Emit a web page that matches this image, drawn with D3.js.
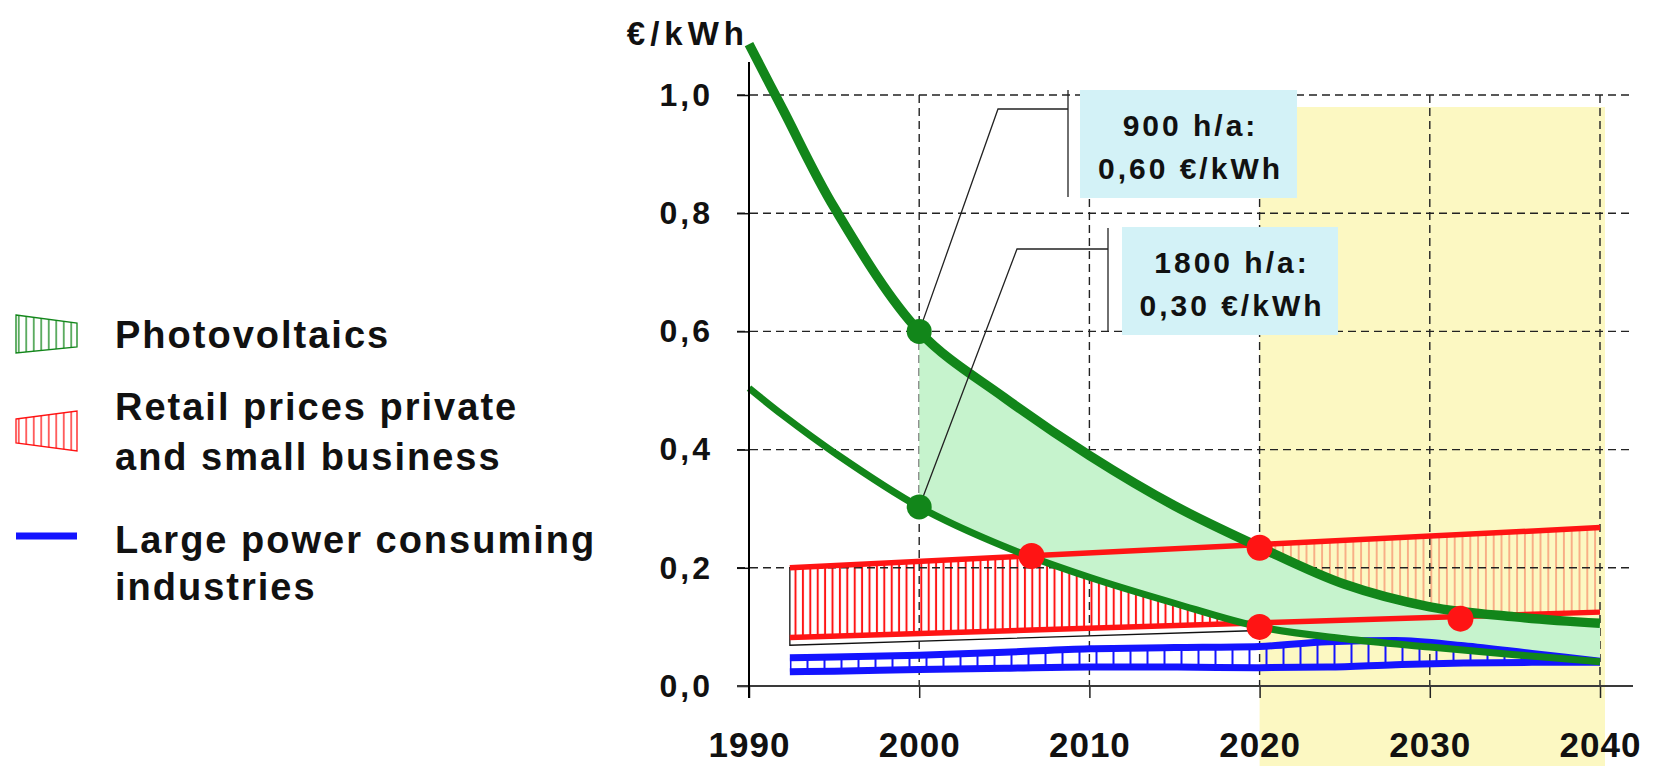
<!DOCTYPE html>
<html>
<head>
<meta charset="utf-8">
<script src="https://cdn.jsdelivr.net/npm/d3@7"></script>
<style>
  body { margin: 0; background: #fff; }
  svg { display: block; font-family: "Liberation Sans", Arial, sans-serif; font-weight: bold; }
</style>
</head>
<body>
<div id="chart"></div>
<script>
// values (€/kWh)
var pvYears = [1990, 1992, 1995, 2000, 2005, 2010, 2015, 2020, 2025, 2030, 2035, 2040];
var pv900 = [1.086, 0.975, 0.81, 0.60, 0.488, 0.39, 0.305, 0.235, 0.172, 0.134, 0.117, 0.106];
var pv1800 = [0.504, 0.458, 0.395, 0.303, 0.236, 0.184, 0.14, 0.10, 0.08, 0.066, 0.053, 0.041];

var retailYears = [1992.4, 2040];
var retailHigh = [0.200, 0.268];
var retailLow = [0.082, 0.125];

var industryYears = [1992.4, 1995, 2000, 2005, 2010, 2015, 2020, 2024, 2028, 2032, 2036, 2040];
var industryHigh = [0.048, 0.049, 0.052, 0.057, 0.063, 0.065, 0.067, 0.075, 0.077, 0.068, 0.055, 0.042];
var industryLow = [0.024, 0.025, 0.028, 0.030, 0.032, 0.032, 0.031, 0.032, 0.036, 0.039, 0.040, 0.040];

var pvDots = [[2000, 0.600], [2000, 0.303]];
var crossDots = [[2006.6, 0.220], [2020, 0.234], [2020, 0.100], [2031.8, 0.114]];

var xTicks = [1990, 2000, 2010, 2020, 2030, 2040];
var yTicks = [0, 0.2, 0.4, 0.6, 0.8, 1.0];
var forecastStart = 2020;

var legendLabels = [["Photovoltaics"], ["Retail prices private", "and small business"], ["Large power consuming", "industries"]];
var notes = [["900 h/a:", "0,60 €/kWh"], ["1800 h/a:", "0,30 €/kWh"]];

var W = 1655, H = 766;
var GREEN = "#12861a", RED = "#ff1414", BLUE = "#1414ff";

var svg = d3.select("#chart").append("svg")
    .attr("width", W)
    .attr("height", H);

var x = d3.scaleLinear().domain([1990, 2040]).range([749, 1600]);
var y = d3.scaleLinear().domain([0, 1]).range([686, 95]);

// hatch patterns
var defs = svg.append("defs");
function hatch(id, step, color, w) {
  var p = defs.append("pattern")
      .attr("id", id)
      .attr("patternUnits", "userSpaceOnUse")
      .attr("width", step)
      .attr("height", 20);
  p.append("line")
      .attr("x1", step / 2).attr("x2", step / 2)
      .attr("y1", 0).attr("y2", 20)
      .attr("stroke", color)
      .attr("stroke-width", w);
}
hatch("hatchRed", 7.4, RED, 2);
hatch("hatchRedLight", 7.8, "#f7916e", 1.4);
hatch("hatchBlue", 17, BLUE, 2);
hatch("hatchGreenIcon", 7.5, GREEN, 1.3);
hatch("hatchRedIcon", 7.5, RED, 1.3);

defs.append("clipPath").attr("id", "clipPast")
  .append("rect").attr("x", 0).attr("y", 0).attr("width", x(forecastStart)).attr("height", H);
defs.append("clipPath").attr("id", "clipFuture")
  .append("rect").attr("x", x(forecastStart)).attr("y", 0).attr("width", W).attr("height", H);

// forecast shading
svg.append("rect")
    .attr("x", x(forecastStart))
    .attr("y", 107)
    .attr("width", x(2040) - x(forecastStart) + 5)
    .attr("height", H - 107)
    .attr("fill", "#fcf8c2");

// retail band (hatched)
var retail = retailYears.map(function (d, i) { return {year: d, lo: retailLow[i], hi: retailHigh[i]}; });
var retailArea = d3.area()
    .x(function (d) { return x(d.year); })
    .y0(function (d) { return y(d.lo); })
    .y1(function (d) { return y(d.hi); });
svg.append("path").datum(retail)
    .attr("d", retailArea)
    .attr("fill", "url(#hatchRed)")
    .attr("clip-path", "url(#clipPast)");
svg.append("path").datum(retail)
    .attr("d", retailArea)
    .attr("fill", "url(#hatchRedLight)")
    .attr("clip-path", "url(#clipFuture)");

// thin black outline of the older retail band
var lowAt = d3.scaleLinear().domain(retailYears).range(retailLow);
svg.append("path")
    .attr("d", d3.line()([
      [x(retailYears[0]), y(retailHigh[0])],
      [x(retailYears[0]), y(lowAt(retailYears[0]) - 0.013)],
      [x(2019.5), y(lowAt(2019.5) - 0.013)]
    ]))
    .attr("fill", "none")
    .attr("stroke", "#111")
    .attr("stroke-width", 1.3);

// industry band (hatched)
var industry = industryYears.map(function (d, i) { return {year: d, lo: industryLow[i], hi: industryHigh[i]}; });
svg.append("path").datum(industry)
    .attr("d", d3.area()
      .x(function (d) { return x(d.year); })
      .y0(function (d) { return y(d.lo); })
      .y1(function (d) { return y(d.hi); })
      .curve(d3.curveMonotoneX))
    .attr("fill", "url(#hatchBlue)");

// dashed grid
var grid = svg.append("g")
    .attr("stroke", "#222")
    .attr("stroke-width", 1.4)
    .attr("stroke-dasharray", "8,5");
grid.selectAll(".hgrid")
    .data(yTicks.filter(function (d) { return d > 0; }))
    .enter().append("line")
    .attr("x1", 737).attr("x2", 1633)
    .attr("y1", y).attr("y2", y);
grid.selectAll(".vgrid")
    .data(xTicks.filter(function (d) { return d > 1990; }))
    .enter().append("line")
    .attr("x1", x).attr("x2", x)
    .attr("y1", y(1)).attr("y2", y(0));

// photovoltaics band
var smooth = d3.curveCatmullRom.alpha(0.5);
var pv = pvYears.map(function (d, i) { return {year: d, hi: pv900[i], lo: pv1800[i]}; });
svg.append("path").datum(pv.filter(function (d) { return d.year >= 2000; }))
    .attr("d", d3.area()
      .x(function (d) { return x(d.year); })
      .y0(function (d) { return y(d.lo); })
      .y1(function (d) { return y(d.hi); })
      .curve(smooth))
    .attr("fill", "#c6f3cd");

// industry edges
var indLine = d3.line().x(function (d) { return x(d[0]); }).y(function (d) { return y(d[1]); }).curve(d3.curveMonotoneX);
[industryHigh, industryLow].forEach(function (vals) {
  svg.append("path")
      .attr("d", indLine(industryYears.map(function (d, i) { return [d, vals[i]]; })))
      .attr("fill", "none")
      .attr("stroke", BLUE)
      .attr("stroke-width", 7);
});

// retail edges
[retailHigh, retailLow].forEach(function (vals) {
  svg.append("path")
      .attr("d", d3.line()(retailYears.map(function (d, i) { return [x(d), y(vals[i])]; })))
      .attr("fill", "none")
      .attr("stroke", RED)
      .attr("stroke-width", 5.5);
});

// pv curves
var pvLine = d3.line().x(function (d) { return x(d[0]); }).y(function (d) { return y(d[1]); }).curve(smooth);
svg.append("path")
    .attr("d", pvLine(pvYears.map(function (d, i) { return [d, pv900[i]]; })))
    .attr("fill", "none").attr("stroke", GREEN).attr("stroke-width", 9.5);
svg.append("path")
    .attr("d", pvLine(pvYears.map(function (d, i) { return [d, pv1800[i]]; })))
    .attr("fill", "none").attr("stroke", GREEN).attr("stroke-width", 7);

// axes
var gy = svg.append("g")
    .attr("transform", "translate(749,0)")
    .call(d3.axisLeft(y).tickValues(yTicks).tickSize(12).tickPadding(24)
      .tickFormat(function (d) { return d.toFixed(1).replace(".", ","); }));
gy.select(".domain").remove();
gy.selectAll(".tick line").attr("stroke", "#111").attr("stroke-width", 1.5);
gy.selectAll(".tick text")
    .attr("fill", "#111")
    .attr("font-family", "Liberation Sans, Arial, sans-serif")
    .attr("font-size", 32)
    .attr("font-weight", "bold")
    .style("letter-spacing", "3px");

var gx = svg.append("g")
    .attr("transform", "translate(0,686)")
    .call(d3.axisBottom(x).tickValues(xTicks).tickSize(12).tickPadding(34).tickFormat(d3.format("d")));
gx.select(".domain").remove();
gx.selectAll(".tick line").attr("stroke", "#222").attr("stroke-width", 1.5);
gx.selectAll(".tick text")
    .attr("fill", "#111")
    .attr("font-family", "Liberation Sans, Arial, sans-serif")
    .attr("font-size", 35)
    .attr("font-weight", "bold")
    .style("letter-spacing", "1px");

svg.append("line")
    .attr("x1", 737).attr("x2", 1633)
    .attr("y1", y(0)).attr("y2", y(0))
    .attr("stroke", "#3a3a3a").attr("stroke-width", 2);
svg.append("line")
    .attr("x1", x(1990)).attr("x2", x(1990))
    .attr("y1", 62).attr("y2", y(0) + 12)
    .attr("stroke", "#000").attr("stroke-width", 2);

svg.append("text")
    .attr("x", 749).attr("y", 45)
    .attr("text-anchor", "end")
    .attr("font-size", 33)
    .attr("fill", "#111")
    .style("letter-spacing", "5px")
    .text("€/kWh");

// annotation leaders and boxes
var leaders = [
  {from: pvDots[0], elbow: [998, 109], end: [1068, 109], bar: [90, 197], box: [1080, 90, 217, 108]},
  {from: pvDots[1], elbow: [1017, 249], end: [1108, 249], bar: [228, 332], box: [1122, 227, 216, 108]}
];
leaders.forEach(function (l, i) {
  svg.append("path")
      .attr("d", d3.line()([[x(l.from[0]), y(l.from[1])], l.elbow, l.end]))
      .attr("fill", "none").attr("stroke", "#222").attr("stroke-width", 1.3);
  svg.append("line")
      .attr("x1", l.end[0]).attr("x2", l.end[0])
      .attr("y1", l.bar[0]).attr("y2", l.bar[1])
      .attr("stroke", "#222").attr("stroke-width", 1.3);
  svg.append("rect")
      .attr("x", l.box[0]).attr("y", l.box[1])
      .attr("width", l.box[2]).attr("height", l.box[3])
      .attr("fill", "#d3f2f7");
  svg.append("text")
      .attr("text-anchor", "middle")
      .attr("font-size", 30)
      .attr("fill", "#111")
      .style("letter-spacing", "3px")
      .selectAll("tspan")
      .data(notes[i])
      .enter().append("tspan")
      .attr("x", l.box[0] + l.box[2] / 2 + 2)
      .attr("y", function (d, j) { return l.box[1] + 46 + j * 43; })
      .text(function (d) { return d; });
});

// dots
svg.selectAll(".pvdot").data(pvDots).enter().append("circle")
    .attr("cx", function (d) { return x(d[0]); })
    .attr("cy", function (d) { return y(d[1]); })
    .attr("r", 12.5)
    .attr("fill", GREEN);
svg.selectAll(".crossdot").data(crossDots).enter().append("circle")
    .attr("cx", function (d) { return x(d[0]); })
    .attr("cy", function (d) { return y(d[1]); })
    .attr("r", 13)
    .attr("fill", RED);

// legend
var legend = svg.append("g");
legend.append("path")
    .attr("d", "M16,315L77,323L77,347L16,353Z")
    .attr("fill", "url(#hatchGreenIcon)")
    .attr("stroke", GREEN).attr("stroke-width", 1.3);
legend.append("path")
    .attr("d", "M16,419L77,411L77,451L16,443Z")
    .attr("fill", "url(#hatchRedIcon)")
    .attr("stroke", RED).attr("stroke-width", 1.3);
legend.append("line")
    .attr("x1", 16).attr("x2", 77)
    .attr("y1", 536).attr("y2", 536)
    .attr("stroke", BLUE).attr("stroke-width", 7);

var legendBase = [[348], [420, 470], [553, 600]];
legendLabels.forEach(function (lines, i) {
  legend.append("text")
      .attr("font-size", 38)
      .attr("fill", "#111")
      .style("letter-spacing", "2px")
      .selectAll("tspan")
      .data(lines)
      .enter().append("tspan")
      .attr("x", 115)
      .attr("y", function (d, j) { return legendBase[i][j]; })
      .text(function (d) { return d; });
});
</script>
</body>
</html>
